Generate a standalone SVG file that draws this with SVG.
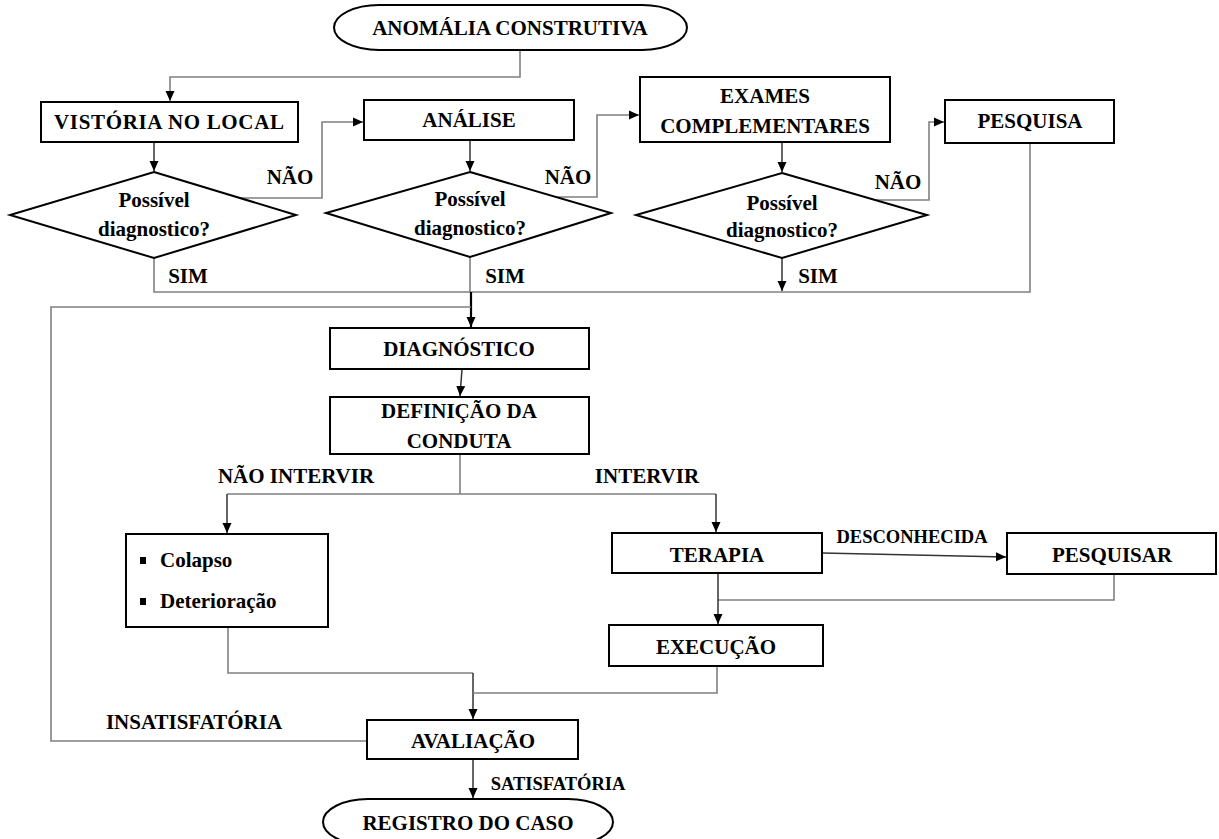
<svg xmlns="http://www.w3.org/2000/svg" width="1219" height="839" viewBox="0 0 1219 839">
<style>
.box{fill:#fff;stroke:#000;stroke-width:2}
.t{font-family:"Liberation Serif","Times New Roman",serif;font-weight:bold;font-size:21px;fill:#000;text-anchor:middle}
.s{font-size:18.5px}
.l{text-anchor:start}
.c{fill:none;stroke:#808080;stroke-width:1.6}
.ca{fill:none;stroke:#808080;stroke-width:1.6;marker-end:url(#ah)}
.cd{fill:none;stroke:#333;stroke-width:1.5;marker-end:url(#ah)}
.cm{fill:none;stroke:#000;stroke-width:2.2;marker-end:url(#ah)}
</style>
<defs>
<marker id="ah" markerUnits="userSpaceOnUse" markerWidth="11" markerHeight="10" refX="10" refY="5" orient="auto">
<path d="M0,0.5 L10,5 L0,9.5 z" fill="#000"/>
</marker>
</defs>
<rect width="1219" height="839" fill="#fff"/>
<g id="connectors">
<path class="ca" d="M520,50 V77 H170 V101"/>
<path class="cd" d="M154,142 V171"/>
<path class="ca" d="M240,198 H322 V122 H363"/>
<path class="cd" d="M470,140 V171"/>
<path class="ca" d="M556,197 H597 V115 H639"/>
<path class="cd" d="M782,142 V172"/>
<path class="ca" d="M872,200 H929 V122 H944"/>
<path class="c" d="M154,258 V292 H1030 V143"/>
<path class="c" d="M470,257 V292"/>
<path class="cd" d="M782,258 V291"/>
<path class="cm" d="M471,292 V327"/>
<path class="cd" d="M462,369 L460,396"/>
<path class="c" d="M460,454 V494 M227,494 H716"/>
<path class="cd" d="M227,494 V533"/>
<path class="cd" d="M716,494 V532"/>
<path class="cd" d="M822,553 L1006,557"/>
<path class="c" d="M1114,574 V600 H718"/>
<path class="cd" d="M718,573 V624"/>
<path class="c" d="M228,627 V673 H473"/>
<path class="cd" d="M473,673 V719"/>
<path class="c" d="M717,666 V693 H473"/>
<path class="c" d="M367,741 H51 V307 H471"/>
<path class="cd" d="M473,759 V798"/>
</g>
<g id="labels">
<text class="t" x="290" y="184">NÃO</text>
<text class="t" x="568" y="184">NÃO</text>
<text class="t" x="898" y="189">NÃO</text>
<text class="t" x="188" y="283">SIM</text>
<text class="t" x="505" y="283">SIM</text>
<text class="t" x="818" y="283">SIM</text>
<text class="t" x="296" y="483">NÃO INTERVIR</text>
<text class="t" x="647" y="483">INTERVIR</text>
<text class="t s" x="912" y="543">DESCONHECIDA</text>
<text class="t" x="194" y="729">INSATISFATÓRIA</text>
<text class="t s" x="558" y="790">SATISFATÓRIA</text>
</g>
<g id="anomalia">
<rect class="box" x="334" y="5" width="353" height="45" rx="45" ry="22.5"/>
<text class="t" x="510" y="35">ANOMÁLIA CONSTRUTIVA</text>
</g>
<g id="vistoria">
<rect class="box" x="41" y="102" width="257" height="40"/>
<text class="t" x="169" y="129" textLength="230" lengthAdjust="spacing">VISTÓRIA NO LOCAL</text>
</g>
<g id="diamond1">
<polygon class="box" points="154,172 296,215 154,258 10,215"/>
<text class="t" x="154" y="207">Possível</text>
<text class="t" x="154" y="236">diagnostico?</text>
</g>
<g id="analise">
<rect class="box" x="364" y="100" width="210" height="40"/>
<text class="t" x="469" y="127">ANÁLISE</text>
</g>
<g id="diamond2">
<polygon class="box" points="470,172 611,213 470,257 326,213"/>
<text class="t" x="470" y="206">Possível</text>
<text class="t" x="470" y="235">diagnostico?</text>
</g>
<g id="exames">
<rect class="box" x="640" y="77" width="250" height="65"/>
<text class="t" x="765" y="103">EXAMES</text>
<text class="t" x="765" y="133">COMPLEMENTARES</text>
</g>
<g id="diamond3">
<polygon class="box" points="782,173 927,215 782,258 636,215"/>
<text class="t" x="782" y="210">Possível</text>
<text class="t" x="782" y="237">diagnostico?</text>
</g>
<g id="pesquisa">
<rect class="box" x="945" y="100" width="169" height="43"/>
<text class="t" x="1030" y="128">PESQUISA</text>
</g>
<g id="diagnostico">
<rect class="box" x="330" y="328" width="259" height="41"/>
<text class="t" x="459" y="356">DIAGNÓSTICO</text>
</g>
<g id="definicao">
<rect class="box" x="330" y="397" width="259" height="57"/>
<text class="t" x="459" y="418">DEFINIÇÃO DA</text>
<text class="t" x="459" y="448">CONDUTA</text>
</g>
<g id="colapso">
<rect class="box" x="126" y="534" width="202" height="93"/>
<rect x="140" y="557" width="6" height="7" fill="#000"/>
<text class="t l" x="160" y="567">Colapso</text>
<rect x="140" y="598" width="6" height="7" fill="#000"/>
<text class="t l" x="160" y="608">Deterioração</text>
</g>
<g id="terapia">
<rect class="box" x="612" y="533" width="210" height="40"/>
<text class="t" x="717" y="562">TERAPIA</text>
</g>
<g id="pesquisar">
<rect class="box" x="1007" y="533" width="209" height="41"/>
<text class="t" x="1112" y="562">PESQUISAR</text>
</g>
<g id="execucao">
<rect class="box" x="609" y="625" width="214" height="41"/>
<text class="t" x="716" y="654">EXECUÇÃO</text>
</g>
<g id="avaliacao">
<rect class="box" x="367" y="720" width="211" height="39"/>
<text class="t" x="473" y="748">AVALIAÇÃO</text>
</g>
<g id="registro">
<rect class="box" x="323" y="799" width="290" height="46" rx="45" ry="23"/>
<text class="t" x="468" y="830">REGISTRO DO CASO</text>
</g>
</svg>
